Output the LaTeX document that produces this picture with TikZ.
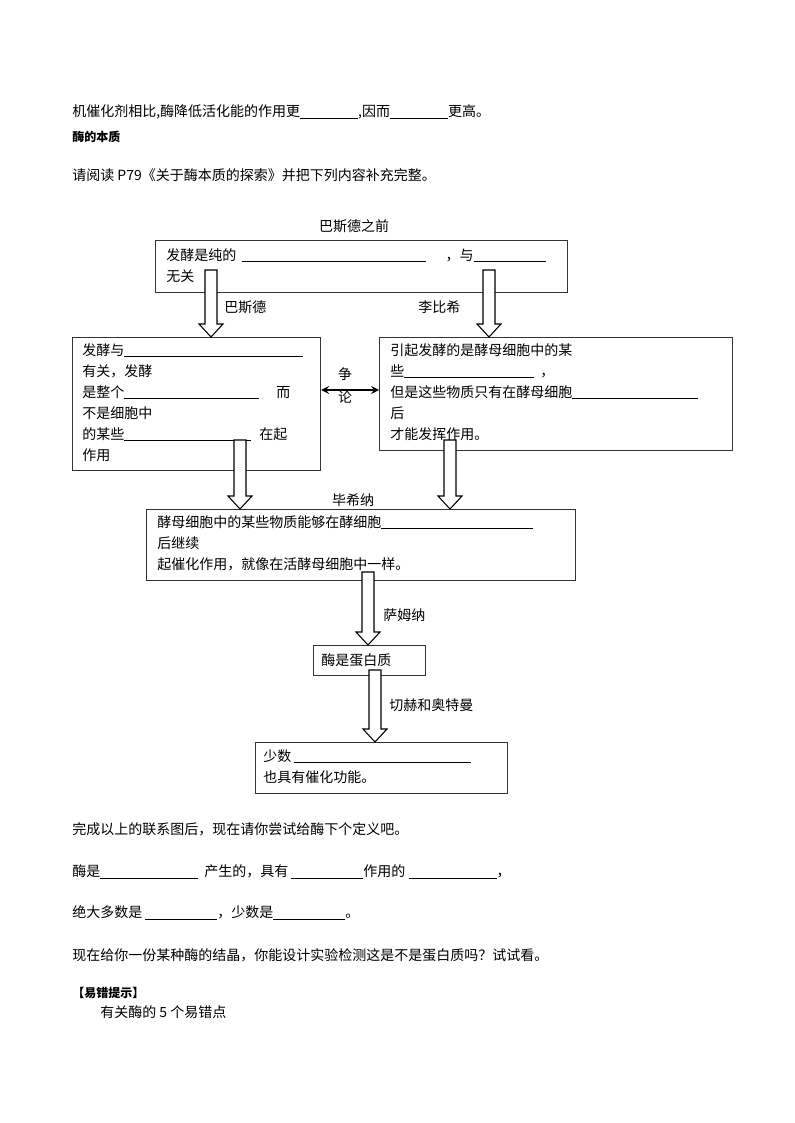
\documentclass[tikz,border=0pt]{standalone}
\usepackage{fontspec}
\setmainfont{Noto Sans CJK SC}
\newlength\pxu
\setlength\pxu{0.75pt}
\newcommand\blank[1]{\rule[-1.5pt]{#1\pxu}{0.5pt}}
% hollow down arrow: x, top y, tip y
\newcommand\harrow[3]{\draw[hollow] (#1-6,#2) -- (#1-6,#3-13) -- (#1-12,#3-13) -- (#1,#3) -- (#1+12,#3-13) -- (#1+6,#3-13) -- (#1+6,#2) -- cycle;}
\begin{document}
\begin{tikzpicture}[
x=0.75pt, y=-0.75pt,
every node/.style={font=\fontsize{10.5}{15.75}\selectfont, inner sep=0pt},
txt/.style={anchor=west},
para/.style={anchor=north west, align=left},
box/.style={draw=black!80, thick, anchor=north west, minimum width=#1*0.75pt},
hollow/.style={draw=black, fill=white, thick},
head/.style={font=\fontsize{9}{11}\selectfont\bfseries}
]
\useasboundingbox (0,0) rectangle (794,1123);

% page text
\node[txt] (t1) at (72,112) {机催化剂相比,酶降低活化能的作用更\blank{58},因而\blank{58}更高。};
\node[txt, head] (t2) at (72,137) {酶的本质};
\node[txt] (t3) at (72,175) {请阅读 P79《关于酶本质的探索》并把下列内容补充完整。};

% boxes
\node[box=412, minimum height=52*0.75pt] (before) at (155,240) {};
\node[box=248, minimum height=133*0.75pt] (pasteur) at (72,337) {};
\node[box=353, minimum height=113*0.75pt] (liebig) at (379,337) {};
\node[box=429, minimum height=71*0.75pt] (buchner) at (146,509) {};
\node[box=112, minimum height=30*0.75pt] (protein) at (313,645) {};
\node[box=252, minimum height=51*0.75pt] (rna) at (255,742) {};

% box texts
\node[para] at (166,248) {发酵是纯的 \,\blank{184}\hspace{20\pxu}，与\blank{72}\\无关};
\node[para] at (82,343) {发酵与\blank{179}\\有关，发酵\\是整个\blank{135}\hspace{17\pxu}而\\不是细胞中\\的某些\blank{127}\hspace{8\pxu}在起\\作用};
\node[para] at (390,343) {引起发酵的是酵母细胞中的某\\些\blank{130}\hspace{6\pxu}，\\但是这些物质只有在酵母细胞\blank{126}\\后\\才能发挥作用。};
\node[para] at (157,515) {酵母细胞中的某些物质能够在酵细胞\blank{152}\\后继续\\起催化作用，就像在活酵母细胞中一样。};
\node[txt] (ptext) at (321,660) {酶是蛋白质};
\node[para] at (263,749) {少数 \blank{177}\\也具有催化功能。};

% hollow arrows
\harrow{211}{270}{337}
\harrow{489}{270}{337}
\harrow{240}{440}{509}
\harrow{450}{440}{509}
\harrow{368}{572}{645}
\harrow{375}{670}{742}

% labels
\node (lb0) at (354,226) {巴斯德之前};
\node[txt] (lb1) at (224,307) {巴斯德};
\node[txt] (lb2) at (418,307) {李比希};
\node (lb3) at (353,500) {毕希纳};
\node[txt] (lb4) at (383,615) {萨姆纳};
\node[txt] (lb5) at (389,705) {切赫和奥特曼};

% dispute
\draw[<->, >=stealth, line width=1.6pt] (pasteur.east |- 0,390) -- (liebig.west |- 0,390);
\node (zh) at (345,374) {争};
\node (lun) at (345,397) {论};

% more page text
\node[txt] (t4) at (72,829) {完成以上的联系图后，现在请你尝试给酶下个定义吧。};
\node[txt] (t5) at (72,872) {酶是\blank{98}\hspace{6\pxu}产生的，具有 \blank{72}作用的 \blank{88}，};
\node[txt] (t6) at (72,913) {绝大多数是 \blank{72}，少数是\blank{72}。};
\node[txt] (t7) at (72,955) {现在给你一份某种酶的结晶，你能设计实验检测这是不是蛋白质吗？试试看。};
\node[txt, head] (t8) at (72,993) {【易错提示】};
\node[txt] (t9) at (100,1012) {有关酶的 5 个易错点};
\end{tikzpicture}
\end{document}
